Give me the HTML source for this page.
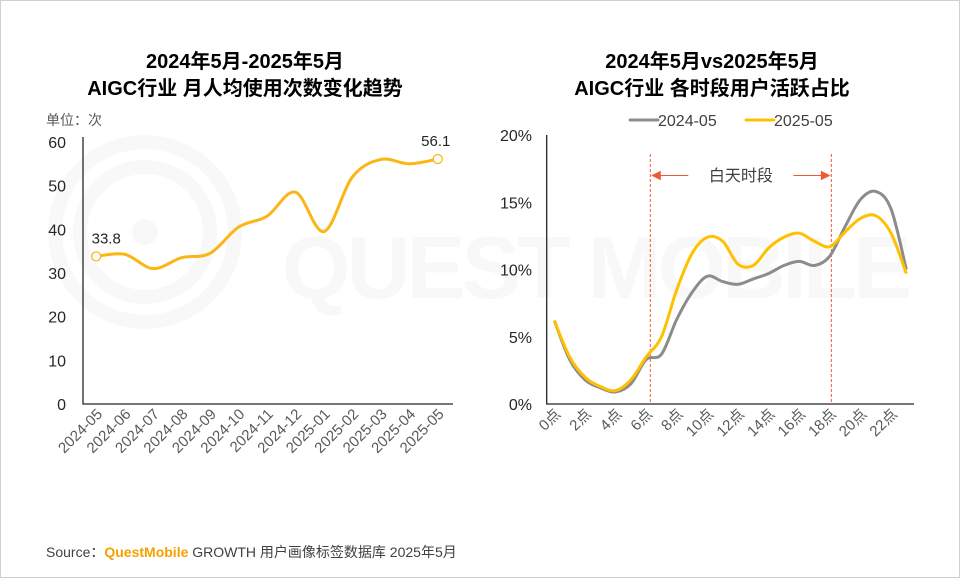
<!DOCTYPE html>
<html><head><meta charset="utf-8">
<style>
body{margin:0;background:#fff;}
#wrap{position:relative;width:960px;height:578px;overflow:hidden;font-family:"Liberation Sans","Noto Sans CJK SC",sans-serif;}
svg text{font-family:"Liberation Sans","Noto Sans CJK SC",sans-serif;}
</style></head>
<body>
<div id="wrap">
<svg id="svg" width="960" height="578" viewBox="0 0 960 578" xmlns="http://www.w3.org/2000/svg">
<rect x="0.5" y="0.5" width="959" height="577" fill="#fff" stroke="#d0d0d0"/>
<g opacity="0.45">
<circle cx="145" cy="232" r="90" fill="none" stroke="#f0f0f0" stroke-width="14"/>
<circle cx="145" cy="232" r="65" fill="none" stroke="#f0f0f0" stroke-width="14"/>
<circle cx="145" cy="232" r="13" fill="#f0f0f0"/>
<text x="282" y="298" font-size="88" font-weight="bold" fill="#f0f0f0" textLength="630">QUEST MOBILE</text>
</g>
<text x="245" y="68" text-anchor="middle" font-size="20" font-weight="bold" fill="#000">2024年5月-2025年5月</text>
<text x="245" y="95" text-anchor="middle" font-size="20" font-weight="bold" fill="#000">AIGC行业 月人均使用次数变化趋势</text>
<text x="712" y="68" text-anchor="middle" font-size="20" font-weight="bold" fill="#000">2024年5月vs2025年5月</text>
<text x="712" y="95" text-anchor="middle" font-size="20" font-weight="bold" fill="#000">AIGC行业 各时段用户活跃占比</text>
<text x="46" y="125" font-size="14" fill="#595959">单位：次</text>
<text x="46" y="557" font-size="14" fill="#404040">Source：<tspan fill="#f5a000" font-weight="bold">QuestMobile</tspan> GROWTH 用户画像标签数据库 2025年5月</text>
<g id="left"></g>
<g id="right"></g>
</svg>
</div>
<script>
const leftCategories=["2024-05","2024-06","2024-07","2024-08","2024-09","2024-10","2024-11","2024-12","2025-01","2025-02","2025-03","2025-04","2025-05"];
const leftValues=[33.8,34.3,31.0,33.5,34.5,40.5,43.0,48.5,39.5,52.0,56.0,55.0,56.1];
const leftTicks=[0,10,20,30,40,50,60];
const hours=Array.from({length:24},(_,i)=>i);
const hourLabels=["0点","2点","4点","6点","8点","10点","12点","14点","16点","18点","20点","22点"];
const series2025=[6.2,3.5,2.0,1.3,1.0,1.8,3.5,5.0,8.5,11.2,12.4,12.1,10.4,10.3,11.6,12.4,12.7,12.1,11.7,12.8,13.8,14.0,12.7,9.7];
const series2024=[6.2,3.3,1.8,1.2,0.9,1.5,3.3,3.7,6.3,8.3,9.5,9.1,8.9,9.3,9.7,10.3,10.6,10.3,11.0,13.2,15.2,15.8,14.5,10.0];
const rightTicks=[0,5,10,15,20];
const dayBounds=[6.27,18.1];
const NS="http://www.w3.org/2000/svg";
function mk(parent,tag,attrs){const e=document.createElementNS(NS,tag);for(const k in attrs)e.setAttribute(k,attrs[k]);parent.appendChild(e);return e;}
function spline(pts){let d=`M${pts[0][0]},${pts[0][1]}`;for(let i=0;i<pts.length-1;i++){const p0=pts[Math.max(0,i-1)],p1=pts[i],p2=pts[i+1],p3=pts[Math.min(pts.length-1,i+2)];const t=1/3;const c1=[p1[0]+(p2[0]-p0[0])*t/2,p1[1]+(p2[1]-p0[1])*t/2];const c2=[p2[0]-(p3[0]-p1[0])*t/2,p2[1]-(p3[1]-p1[1])*t/2];d+=` C${c1[0]},${c1[1]} ${c2[0]},${c2[1]} ${p2[0]},${p2[1]}`;}return d;}
// LEFT
const L=document.getElementById('left');
const lx0=83,lx1=453,ly0=404,ly1=142;
const lxs=i=>lx0+(lx1-lx0)/leftCategories.length*(i+0.5)-1;
const lys=v=>ly0-(v/60)*(ly0-ly1);
leftTicks.forEach(t=>{const e=mk(L,'text',{x:66,y:lys(t)+6,'text-anchor':'end','font-size':16,fill:'#262626'});e.textContent=t;

});
let ax=mk(L,'path',{d:`M${lx0},${ly1-5}V${ly0}H${lx1}`,fill:'none',stroke:'#262626','stroke-width':1.3});


leftCategories.forEach((c,i)=>{const x=lxs(i)+7,y=415;const e=mk(L,'text',{x:x,y:y,'text-anchor':'end','font-size':15,fill:'#595959',transform:`rotate(-45 ${x} ${y})`});e.textContent=c;

});
const lp=leftValues.map((v,i)=>[lxs(i),lys(v)]);
let ll=mk(L,'path',{d:spline(lp),fill:'none',stroke:'#fbb614','stroke-width':3,'stroke-linecap':'round'});


[0,leftValues.length-1].forEach(i=>{const c=mk(L,'circle',{cx:lp[i][0],cy:lp[i][1],r:4.5,fill:'#fff',stroke:'#fbb614','stroke-width':1.3});


const t=mk(L,'text',{x:lp[i][0]+(i?-2:10),y:lp[i][1]-13,'text-anchor':'middle','font-size':15,fill:'#262626'});t.textContent=leftValues[i];

});
// RIGHT
const R=document.getElementById('right');
const rx0=546.7,rx1=914,ry0=404,ry1=135;
const rxs=i=>rx0+(rx1-rx0)/24*(i+0.5);
const rys=v=>ry0-(v/20)*(ry0-ry1);
rightTicks.forEach(t=>{const e=mk(R,'text',{x:532,y:rys(t)+6,'text-anchor':'end','font-size':16,fill:'#262626'});e.textContent=t+'%';

});
let ax2=mk(R,'path',{d:`M${rx0},${ry1}V${ry0}H${rx1}`,fill:'none',stroke:'#262626','stroke-width':1.3});


hourLabels.forEach((h,k)=>{const x=rxs(k*2)+7,y=415;const e=mk(R,'text',{x:x,y:y,'text-anchor':'end','font-size':15,fill:'#595959',transform:`rotate(-45 ${x} ${y})`});e.textContent=h;

});
dayBounds.forEach(b=>{const l=mk(R,'line',{x1:rxs(b),x2:rxs(b),y1:154,y2:404,stroke:'#ee5a36','stroke-width':1,'stroke-dasharray':'3,2'});

});
const ay=175.5,bx0=rxs(dayBounds[0]),bx1=rxs(dayBounds[1]);
let a1=mk(R,'path',{d:`M${bx0+2},${ay}H${bx0+38} M${bx0+2},${ay}l8,-4v8z`,stroke:'#ee5a36',fill:'#ee5a36','stroke-width':1});


let a2=mk(R,'path',{d:`M${bx1-2},${ay}H${bx1-38} M${bx1-2},${ay}l-8,-4v8z`,stroke:'#ee5a36',fill:'#ee5a36','stroke-width':1});


let dt=mk(R,'text',{x:(bx0+bx1)/2,y:181,'text-anchor':'middle','font-size':16,fill:'#404040'});dt.textContent='白天时段';


let g24=mk(R,'path',{d:spline(series2024.map((v,i)=>[rxs(hours[i]),rys(v)])),fill:'none',stroke:'#8c8c8c','stroke-width':3});


let g25=mk(R,'path',{d:spline(series2025.map((v,i)=>[rxs(hours[i]),rys(v)])),fill:'none',stroke:'#ffc000','stroke-width':3});


[["2024-05","#8c8c8c",630],["2025-05","#ffc000",746]].forEach(([n,c,x])=>{const l=mk(R,'line',{x1:x,x2:x+28,y1:120,y2:120,stroke:c,'stroke-width':3,'stroke-linecap':'round'});


const t=mk(R,'text',{x:x+28,y:126,'font-size':16,fill:'#404040'});t.textContent=n;

});
</script>
</body></html>
